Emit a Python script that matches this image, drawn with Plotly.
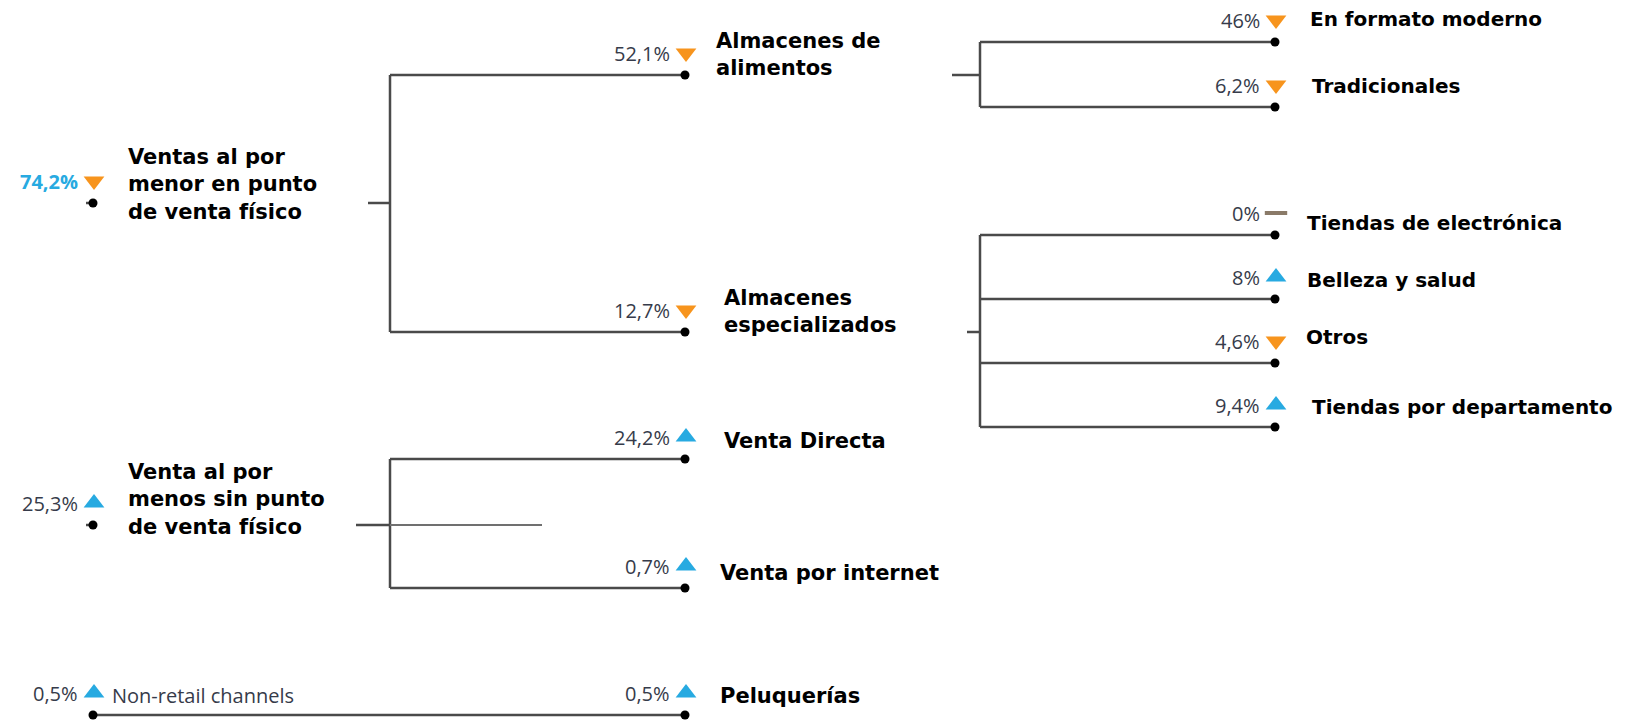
import plotly.graph_objects as go

# ---- data ----
names = [
    "Ventas al por<br>menor en punto<br>de venta físico",
    "Almacenes de<br>alimentos",
    "Almacenes<br>especializados",
    "En formato moderno",
    "Tradicionales",
    "Tiendas de electrónica",
    "Belleza y salud",
    "Otros",
    "Tiendas por departamento",
    "Venta al por<br>menos sin punto<br>de venta físico",
    "Venta Directa",
    "Venta por internet",
    "Non-retail channels",
    "Peluquerías",
]
shares = ["74,2%", "52,1%", "12,7%", "46%", "6,2%", "0%", "8%", "4,6%", "9,4%",
          "25,3%", "24,2%", "0,7%", "0,5%", "0,5%"]
trend = ["down", "down", "down", "down", "down", "flat", "up", "down", "up",
         "up", "up", "up", "up", "up"]
parent = [None, 0, 0, 1, 1, 2, 2, 2, 2, None, 9, 9, None, 12]

# ---- drawing layout (pixel space) ----
node_x = [93, 685, 685, 1275, 1275, 1275, 1275, 1275, 1275, 93, 685, 685, 93, 685]
node_y = [203, 75, 332, 42, 107, 235, 299, 363, 427, 525, 459, 588, 715, 715]
label_dx = [33, 29, 37, 33, 35, 30, 30, 29, 35, 33, 37, 33, 17, 33]
label_dy = [-19, -21, -21, -23, -21, -12, -19, -26, -20, -26, -18, -15, -20, -19]
bracket = {0: (368, 390), 1: (952, 980), 2: (967, 980), 9: (356, 390)}

LINE = "#4a4a4a"
ORANGE = "#F7941D"
BLUE = "#27AAE1"
PCT = "#363b4a"

fig = go.Figure()

# tree lines
lx, ly = [], []
def seg(x0, y0, x1, y1):
    lx.extend([x0, x1, None])
    ly.extend([y0, y1, None])

for p, (xs, xb) in bracket.items():
    kids = [i for i, q in enumerate(parent) if q == p]
    seg(xs, node_y[p], xb, node_y[p])
    seg(xb, min(node_y[k] for k in kids), xb, max(node_y[k] for k in kids))
    for k in kids:
        seg(xb, node_y[k], node_x[k], node_y[k])
for k, q in enumerate(parent):
    if q is not None and q not in bracket:
        seg(node_x[q], node_y[q], node_x[k], node_y[k])
for r in (0, 9):
    seg(node_x[r] - 7, node_y[r], node_x[r], node_y[r])

fig.add_trace(go.Scatter(x=lx, y=ly, mode="lines", line=dict(color=LINE, width=2.5),
                         hoverinfo="skip"))
# loose stub on second root
fig.add_trace(go.Scatter(x=[390, 542], y=[node_y[9], node_y[9]], mode="lines",
                         line=dict(color="#707070", width=2.2), hoverinfo="skip"))

# node dots
fig.add_trace(go.Scatter(x=node_x, y=node_y, mode="markers",
                         marker=dict(color="black", size=9), hoverinfo="skip"))

# trend markers
tri_x = [x + 1 for x in node_x]
tri_y = [y - 22 for y in node_y]
styles = {
    "down": dict(symbol="triangle-down", color=ORANGE, size=18, line=dict(width=0)),
    "up": dict(symbol="triangle-up", color=BLUE, size=18, line=dict(width=0)),
    "flat": dict(symbol="line-ew", color="#8a7a68", size=16, line=dict(width=4, color="#8a7a68")),
}
for t, st in styles.items():
    idx = [i for i, v in enumerate(trend) if v == t]
    fig.add_trace(go.Scatter(x=[tri_x[i] for i in idx], y=[tri_y[i] for i in idx],
                             mode="markers", marker=st, hoverinfo="skip"))

# percentages
for i, s in enumerate(shares):
    bold = i == 0
    fig.add_annotation(x=tri_x[i], y=tri_y[i], text=f"<b>{s}</b>" if bold else s,
                       xanchor="right", yanchor="middle", xshift=-14, showarrow=False,
                       font=dict(family="Open Sans", size=20,
                                 color=BLUE if bold else PCT))

# names
for i, n in enumerate(names):
    regular = i == 12
    fig.add_annotation(x=node_x[i] + label_dx[i], y=node_y[i] + label_dy[i],
                       text=n if regular else f"<b>{n}</b>",
                       xanchor="left", yanchor="middle", align="left", showarrow=False,
                       font=dict(family="Open Sans" if regular else "DejaVu Sans",
                                 size=20 if regular or node_x[i] > 1000 else 21,
                                 color=PCT if regular else "black"))

fig.update_layout(
    width=1627, height=721, margin=dict(l=0, r=0, t=0, b=0),
    paper_bgcolor="white", plot_bgcolor="white", showlegend=False,
    xaxis=dict(range=[0, 1627], visible=False, fixedrange=True),
    yaxis=dict(range=[721, 0], visible=False, fixedrange=True),
)

fig.write_html("out.html", config={"displayModeBar": False},
               post_script="document.body.style.margin='0';")
